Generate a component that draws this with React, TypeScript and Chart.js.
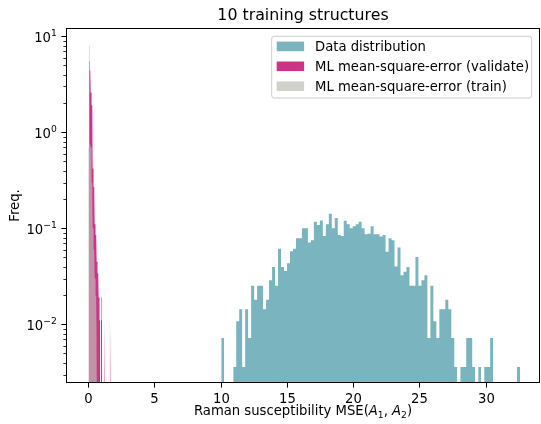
import React, { useEffect, useRef } from 'react';
import { Chart, registerables } from 'chart.js';

Chart.register(...registerables);

// ---------- data ----------
const DATA_BIN_START = 10.04;
const DATA_BIN_WIDTH = 0.2255;
const dataDistribution = [
  0.0072, 0, 0, 0, 0.0036, 0.0108, 0.0144, 0.0036, 0.0144, 0.0072,
  0.0252, 0.018, 0.0252, 0.0252, 0.0144, 0.018, 0.0288, 0.0396, 0.0252, 0.0612,
  0.0396, 0.036, 0.0432, 0.0576, 0.0612, 0.079, 0.079, 0.1, 0.1, 0.071,
  0.075, 0.117, 0.108, 0.121, 0.083, 0.11, 0.142, 0.1, 0.128, 0.085,
  0.083, 0.12, 0.11, 0.1, 0.105, 0.11, 0.117, 0.1, 0.087, 0.088,
  0.105, 0.087, 0.087, 0.082, 0.085, 0.057, 0.079, 0.075, 0.04, 0.063,
  0.0324, 0.0353, 0.0396, 0.0252, 0.0252, 0.0504, 0.0252, 0.0288, 0.0324, 0.0072,
  0.0252, 0.0108, 0.0072, 0.0144, 0.0144, 0.018, 0.0144, 0.0072, 0.0036, 0,
  0.0036, 0.0036, 0.0072, 0.0072, 0.0036, 0, 0.0036, 0, 0.0036, 0.0036,
  0.0072, 0, 0, 0, 0, 0, 0, 0, 0, 0.0036,
];

const ML_BIN_WIDTH = 0.05;
const VALIDATE_BIN_START = 0.05;
const mlValidate = [
  5.5, 4.4, 3.4, 2.6, 1.9, 0.75, 0.42, 0.27, 0.15, 0.11,
  0.085, 0.06, 0.045, 0.034, 0.034, 0.019, 0.011, 0, 0.011, 0.019,
  0, 0, 0, 0.011, 0, 0, 0, 0, 0, 0,
  0, 0, 0.011,
];
const TRAIN_BIN_START = 0.0;
const mlTrain = [
  0.7, 8.0, 0.75, 0.72, 0.7, 0.3, 0.15, 0.1, 0.06, 0.04,
  0.03, 0.02, 0.011, 0, 0, 0, 0, 0, 0, 0,
  0, 0, 0, 0, 0, 0, 0, 0, 0, 0,
  0, 0.011,
];

const seriesLabels = [
  'Data distribution',
  'ML mean-square-error (validate)',
  'ML mean-square-error (train)',
];
const seriesColors = ['rgb(122,181,191)', 'rgb(205,52,136)', 'rgba(190,190,182,0.7)'];

const xTickValues = [0, 5, 10, 15, 20, 25, 30];
const yMajorValues = [0.01, 0.1, 1, 10];
const yMajorExponents = ['\u22122', '\u22121', '0', '1'];
const titleText = '10 training structures';
const yLabelText = 'Freq.';

const X_MIN = -1.68;
const X_MAX = 34.1;
const Y_MIN = 0.00245;
const Y_MAX = 12.2;

// ---------- helpers ----------
function histPoints(start: number, width: number, values: number[]) {
  const pts: { x: number; y: number | null }[] = [];
  let inRun = false;
  values.forEach((v, i) => {
    const left = start + i * width;
    const right = left + width;
    if (v > 0) {
      pts.push({ x: left, y: v });
      pts.push({ x: right, y: v });
      inRun = true;
    } else if (inRun) {
      pts.push({ x: left + width / 2, y: null });
      inRun = false;
    }
  });
  return pts;
}

const FONT = "'DejaVu Sans'";
const FS = 13.2;
const SUB_FS = 9.2;

type Run = { text: string; font: string; dy: number };

function drawRuns(ctx: CanvasRenderingContext2D, runs: Run[], x: number, y: number, align: 'left' | 'center' | 'right') {
  let total = 0;
  const widths = runs.map((r) => {
    ctx.font = r.font;
    const w = ctx.measureText(r.text).width;
    total += w;
    return w;
  });
  let cx = align === 'left' ? x : align === 'center' ? x - total / 2 : x - total;
  ctx.textAlign = 'left';
  ctx.textBaseline = 'alphabetic';
  runs.forEach((r, i) => {
    ctx.font = r.font;
    ctx.fillText(r.text, cx, y + r.dy);
    cx += widths[i];
  });
}

const decorPlugin = {
  id: 'mplDecor',
  afterDraw(chart: any) {
    const { ctx, chartArea: a } = chart;
    const xs = chart.scales.x;
    const ys = chart.scales.y;
    ctx.save();
    ctx.fillStyle = '#000';
    ctx.strokeStyle = '#000';

    // spines
    ctx.lineWidth = 1;
    ctx.strokeRect(a.left + 0.5, a.top + 0.5, a.right - a.left - 1, a.bottom - a.top - 1);

    // x ticks
    const normal = `${FS}px ${FONT}`;
    xTickValues.forEach((v) => {
      const px = Math.round(xs.getPixelForValue(v)) + 0.5;
      ctx.beginPath();
      ctx.moveTo(px, a.bottom);
      ctx.lineTo(px, a.bottom + 4.6);
      ctx.stroke();
      drawRuns(ctx, [{ text: String(v), font: normal, dy: 0 }], px, a.bottom + 19.5, 'center');
    });

    // y ticks (major + minor)
    yMajorValues.forEach((v, i) => {
      const py = Math.round(ys.getPixelForValue(v)) + 0.5;
      ctx.lineWidth = 1;
      ctx.beginPath();
      ctx.moveTo(a.left - 4.6, py);
      ctx.lineTo(a.left, py);
      ctx.stroke();
      drawRuns(
        ctx,
        [
          { text: '10', font: normal, dy: 0 },
          { text: yMajorExponents[i], font: `${SUB_FS}px ${FONT}`, dy: -5.6 },
        ],
        a.left - 9.2,
        py + 5,
        'right'
      );
    });
    ctx.lineWidth = 0.8;
    for (let d = -3; d <= 1; d++) {
      for (let m = 2; m <= 9; m++) {
        const v = m * Math.pow(10, d);
        if (v < Y_MIN || v > Y_MAX) continue;
        const py = Math.round(ys.getPixelForValue(v)) + 0.5;
        ctx.beginPath();
        ctx.moveTo(a.left - 2.6, py);
        ctx.lineTo(a.left, py);
        ctx.stroke();
      }
    }

    // x label (math text)
    const it = `italic ${FS}px ${FONT}`;
    const sub = `${SUB_FS}px ${FONT}`;
    drawRuns(
      ctx,
      [
        { text: 'Raman susceptibility MSE(', font: normal, dy: 0 },
        { text: 'A', font: it, dy: 0 },
        { text: '1', font: sub, dy: 2.6 },
        { text: ', ', font: normal, dy: 0 },
        { text: 'A', font: it, dy: 0 },
        { text: '2', font: sub, dy: 2.6 },
        { text: ')', font: normal, dy: 0 },
      ],
      (a.left + a.right) / 2,
      a.bottom + 32,
      'center'
    );

    // y label
    ctx.save();
    ctx.translate(18.5, (a.top + a.bottom) / 2);
    ctx.rotate(-Math.PI / 2);
    drawRuns(ctx, [{ text: yLabelText, font: normal, dy: 0 }], 0, 0, 'center');
    ctx.restore();

    // title
    drawRuns(ctx, [{ text: titleText, font: `15.8px ${FONT}`, dy: 0 }], (a.left + a.right) / 2, a.top - 8, 'center');

    // legend
    const lx = 271.7, ly = 36.3, lw = 260, lh = 61.7, r = 2.6;
    ctx.beginPath();
    ctx.moveTo(lx + r, ly);
    ctx.arcTo(lx + lw, ly, lx + lw, ly + lh, r);
    ctx.arcTo(lx + lw, ly + lh, lx, ly + lh, r);
    ctx.arcTo(lx, ly + lh, lx, ly, r);
    ctx.arcTo(lx, ly, lx + lw, ly, r);
    ctx.closePath();
    ctx.fillStyle = 'rgba(255,255,255,0.8)';
    ctx.fill();
    ctx.strokeStyle = '#cccccc';
    ctx.lineWidth = 1;
    ctx.stroke();
    chart.data.datasets.forEach((ds: any, i: number) => {
      const cy = 46.4 + i * 19.9;
      ctx.fillStyle = ds.backgroundColor;
      ctx.fillRect(276.7, cy - 4.8, 27.4, 9.6);
      ctx.fillStyle = '#000';
      drawRuns(ctx, [{ text: ds.label, font: normal, dy: 0 }], 315, cy + 4.8, 'left');
    });

    ctx.restore();
  },
};

export default function App() {
  const ref = useRef<HTMLCanvasElement>(null);
  useEffect(() => {
    document.body.style.margin = '0';
    const mk = (i: number, data: any[], order: number) => ({
      label: seriesLabels[i],
      data,
      backgroundColor: seriesColors[i],
      borderColor: 'transparent',
      borderWidth: 0,
      pointRadius: 0,
      pointHoverRadius: 0,
      fill: 'start',
      tension: 0,
      spanGaps: false,
      order,
    });
    const chart = new Chart(ref.current!, {
      type: 'line',
      data: {
        datasets: [
          mk(0, histPoints(DATA_BIN_START, DATA_BIN_WIDTH, dataDistribution), 3),
          mk(1, histPoints(VALIDATE_BIN_START, ML_BIN_WIDTH, mlValidate), 2),
          mk(2, histPoints(TRAIN_BIN_START, ML_BIN_WIDTH, mlTrain), 1),
        ] as any,
      },
      options: {
        animation: false,
        responsive: false,
        events: [],
        layout: { padding: { left: 66, top: 28, right: 1, bottom: 41 } },
        plugins: { legend: { display: false }, tooltip: { enabled: false }, title: { display: false } },
        scales: {
          x: { type: 'linear', min: X_MIN, max: X_MAX, display: false },
          y: { type: 'logarithmic', min: Y_MIN, max: Y_MAX, display: false },
        },
      },
      plugins: [decorPlugin],
    });
    return () => chart.destroy();
  }, []);
  return (
    <div style={{ width: 541, height: 424 }}>
      <canvas ref={ref} width={541} height={424} style={{ display: 'block', width: 541, height: 424 }} />
    </div>
  );
}
